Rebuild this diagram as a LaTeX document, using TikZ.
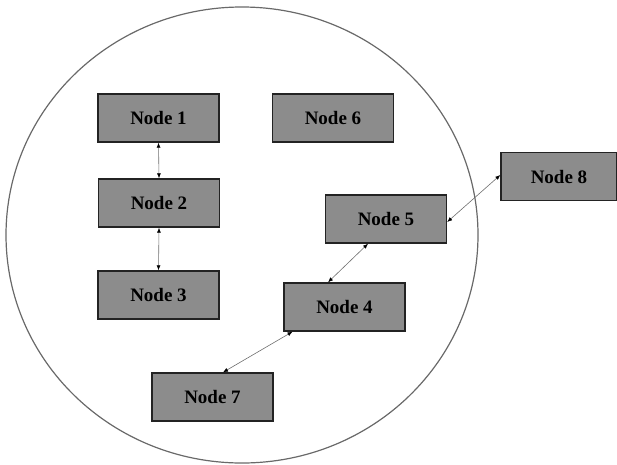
\documentclass[tikz,border=0pt]{standalone}
\usepackage{fontspec}
\setmainfont{Liberation Serif}
\usetikzlibrary{arrows.meta}
\definecolor{boxfill}{RGB}{140,140,140}
\definecolor{boxline}{RGB}{35,35,35}
\definecolor{ringline}{RGB}{105,105,105}
\definecolor{linkline}{RGB}{110,110,110}
\tikzset{
  nodebox/.style={draw=boxline, line width=1.4pt, fill=boxfill, minimum width=121pt, minimum height=48pt, inner sep=0pt, font=\fontsize{19}{21}\selectfont\bfseries},
  link/.style={draw=linkline, line width=0.6pt, {Latex[length=5pt,width=4pt,color=black]}-{Latex[length=5pt,width=4pt,color=black]}}
}
\begin{document}
\begin{tikzpicture}[x=1pt,y=-1pt]
\useasboundingbox (0,0) rectangle (617,464);
\draw[ringline, line width=1.2pt] (242,235) ellipse [x radius=236, y radius=228];
\node[nodebox] (n1) at (158.5,118) {Node 1};
\node[nodebox] (n6) at (333,118) {Node 6};
\node[nodebox] (n2) at (159,203) {Node 2};
\node[nodebox] (n3) at (158.5,295) {Node 3};
\node[nodebox] (n5) at (386,219) {Node 5};
\node[nodebox, minimum width=116pt] (n8) at (559,176.5) {Node 8};
\node[nodebox] (n4) at (344.5,307) {Node 4};
\node[nodebox] (n7) at (212.5,397) {Node 7};
\draw[link] (n1.south) -- (n2.north);
\draw[link] (n2.south) -- (n3.north);
\draw[link] ([xshift=-18pt]n5.south) -- ([xshift=-16.5pt]n4.north);
\draw[link] ([xshift=-52pt]n4.south) -- ([xshift=10.5pt]n7.north);
\draw[link] ([yshift=-3pt]n5.east) -- ([yshift=1.5pt]n8.west);
\end{tikzpicture}
\end{document}
